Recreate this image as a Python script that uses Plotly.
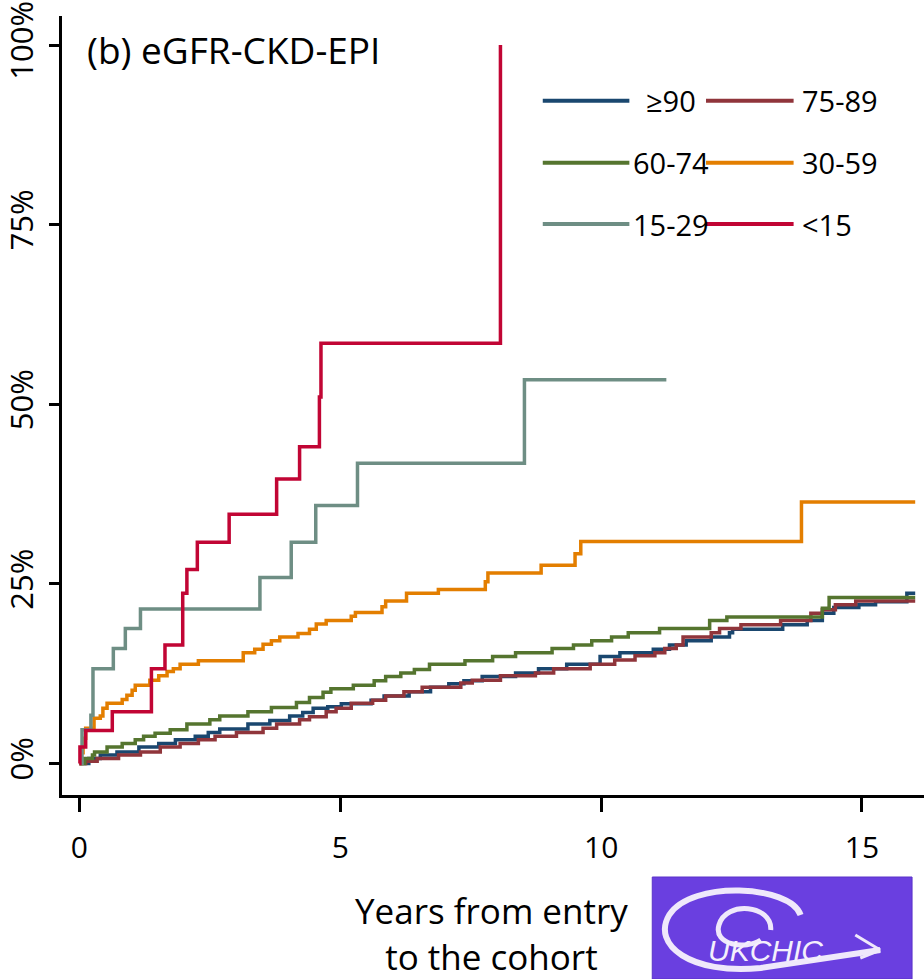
import plotly.graph_objects as go

# ---------------- data (years, cumulative %) ----------------
t_ge90 = [0, 0.18, 0.40, 0.72, 1.14, 1.52, 1.84, 2.22, 2.47, 2.69, 3.23, 3.65, 4.03, 4.28, 4.48, 4.76, 5.02, 5.59, 5.84, 6.32,
          6.73, 7.08, 7.37, 7.72, 8.36, 8.80, 9.34, 9.98, 10.36, 11.00, 11.31, 11.63, 12.11, 12.46, 12.52, 13.48, 13.95, 14.24, 14.46, 14.94,
          15.26, 15.86, 16.02]
y_ge90 = [0, 0.7, 1.2, 1.6, 2.3, 2.8, 3.3, 3.8, 4.3, 4.8, 5.5, 6.0, 6.6, 7.1, 7.7, 7.9, 8.3, 8.8, 9.4, 10.0,
          10.6, 11.1, 11.5, 12.1, 12.6, 13.2, 13.8, 14.9, 15.4, 15.9, 16.5, 17.1, 17.6, 18.2, 18.7, 19.3, 19.9, 20.9, 21.7, 22.1,
          22.5, 23.7, 23.7]

t_75_89 = [0, 0.12, 0.34, 0.75, 1.17, 1.55, 1.93, 2.28, 2.60, 3.01, 3.52, 3.78, 4.22, 4.41, 4.73, 4.92, 5.21, 5.62, 5.87, 6.22,
           6.57, 7.31, 7.53, 8.07, 8.74, 9.09, 9.79, 10.26, 10.65, 11.03, 11.22, 11.44, 11.57, 12.11, 12.27, 12.68, 13.44, 14.02, 14.24, 14.49,
           14.88, 16.02]
y_75_89 = [0, 0.3, 0.7, 1.2, 1.6, 2.3, 2.8, 3.3, 3.8, 4.3, 4.9, 5.5, 6.1, 6.5, 7.2, 7.7, 8.4, 8.8, 9.4, 10.0,
           10.6, 11.2, 11.6, 12.2, 12.6, 13.2, 13.8, 14.4, 15.0, 15.4, 16.0, 16.5, 17.6, 18.2, 18.8, 19.3, 19.9, 20.9, 21.4, 22.1,
           22.6, 22.6]

t_60_74 = [0, 0.10, 0.25, 0.29, 0.53, 0.82, 1.07, 1.23, 1.45, 1.74, 2.06, 2.50, 2.69, 3.23, 3.68, 4.16, 4.41, 4.67, 4.82, 5.25,
           5.65, 5.87, 6.16, 6.42, 6.71, 7.39, 7.92, 8.36, 9.06, 9.47, 9.82, 10.20, 10.52, 11.12, 12.08, 12.41, 14.24, 14.37, 16.02]
y_60_74 = [0, 0.7, 1.2, 1.6, 2.3, 2.8, 3.3, 3.8, 4.2, 4.7, 5.5, 6.1, 6.6, 7.2, 7.8, 8.5, 9.2, 9.9, 10.4, 10.9,
           11.5, 12.1, 12.6, 13.1, 13.8, 14.3, 14.9, 15.4, 16.0, 16.5, 17.1, 17.6, 18.2, 18.8, 19.9, 20.4, 21.6, 23.1, 23.1]

t_30_59 = [0, 0.03, 0.07, 0.12, 0.28, 0.40, 0.45, 0.53, 0.82, 0.91, 1.01, 1.07, 1.35, 1.52, 1.68, 1.80, 1.93, 2.28, 3.14, 3.36,
           3.52, 3.68, 3.84, 4.19, 4.41, 4.54, 4.73, 5.21, 5.29, 5.80, 5.87, 6.27, 6.88, 7.78, 7.83, 8.85, 9.50, 9.61, 13.84, 16.02]
y_30_59 = [0, 1.5, 3.5, 4.9, 6.3, 6.6, 7.7, 8.4, 8.9, 9.5, 10.2, 10.9, 11.6, 12.2, 12.8, 13.2, 13.8, 14.3, 15.4, 15.9,
           16.6, 17.1, 17.6, 18.1, 18.7, 19.4, 19.9, 20.5, 21.0, 21.8, 22.6, 23.7, 24.2, 25.3, 26.5, 27.6, 29.2, 30.9, 36.4, 36.4]

t_15_29 = [0, 0.05, 0.22, 0.26, 0.65, 0.88, 1.17, 3.46, 4.06, 4.53, 5.33, 8.53, 11.25]
y_15_29 = [0, 4.7, 6.7, 13.2, 16.0, 18.8, 21.5, 25.9, 30.8, 35.9, 41.8, 53.4, 53.4]

t_lt15 = [0, 0.01, 0.12, 0.63, 1.38, 1.64, 1.98, 2.06, 2.26, 2.87, 3.78, 4.22, 4.60, 4.63, 8.07]
y_lt15 = [0, 2.3, 4.6, 7.2, 13.2, 16.5, 23.7, 27.0, 30.8, 34.7, 39.6, 44.1, 51.0, 58.5, 100]

group_names = ["≥90", "75-89", "60-74", "30-59", "15-29", "<15"]
group_colors = ["#1a476f", "#90353b", "#55752f", "#e37e00", "#6e8e84", "#c10534"]
series_t = [t_ge90, t_75_89, t_60_74, t_30_59, t_15_29, t_lt15]
series_y = [y_ge90, y_75_89, y_60_74, y_30_59, y_15_29, y_lt15]

y_tick_vals = [0, 25, 50, 75, 100]
y_tick_text = ["0%", "25%", "50%", "75%", "100%"]
x_tick_vals = [0, 5, 10, 15]
x_tick_text = ["0", "5", "10", "15"]

title_text = "(b) eGFR-CKD-EPI"
x_title_text = "Years from entry<br>to the cohort"

# ---------------- layout geometry (pixels) ----------------
W_FIG, H_FIG = 924, 979
L, R, T, B = 58, 0, 16, 184
PW = W_FIG - L - R
PH = H_FIG - T - B
FONT = "Open Sans"


def px(xp):
    return (xp - L) / PW


def py(yp):
    return (T + PH - yp) / PH


fig = go.Figure()
for name, col, tt, yy in zip(group_names, group_colors, series_t, series_y):
    fig.add_trace(go.Scatter(x=tt, y=yy, mode="lines", name=name, line=dict(color=col, width=3.5, shape="hv"),
                             showlegend=False, hoverinfo="skip"))

shapes = []
annotations = []

# manual two-column legend
legend_rows_y = [100.7, 162.7, 224.0]
col1_line = (541, 628)
col2_line = (705, 793)
for i, (name, col) in enumerate(zip(group_names, group_colors)):
    row, c = divmod(i, 2)
    yl = legend_rows_y[row]
    x0, x1 = col1_line if c == 0 else col2_line
    shapes.append(dict(type="line", xref="paper", yref="paper", x0=px(x0), x1=px(x1), y0=py(yl), y1=py(yl),
                       line=dict(color=col, width=4)))
    if c == 0:
        annotations.append(dict(text=name, xref="paper", yref="paper", x=px(670), y=py(yl), xanchor="center",
                                yanchor="middle", showarrow=False, font=dict(family=FONT, size=29, color="black")))
    else:
        annotations.append(dict(text=name, xref="paper", yref="paper", x=px(799), y=py(yl), xanchor="left",
                                yanchor="middle", showarrow=False, font=dict(family=FONT, size=29, color="black")))

# panel title
annotations.append(dict(text=title_text, xref="paper", yref="paper", x=px(81), y=py(50), xanchor="left",
                        yanchor="middle", showarrow=False, font=dict(family=FONT, size=37, color="black")))

# x-axis title (placed like the original)
annotations.append(dict(text=x_title_text, xref="paper", yref="paper", x=px(489), y=py(933), xanchor="center",
                        yanchor="middle", showarrow=False, font=dict(family=FONT, size=35, color="black")))

# logo (approximation)
shapes.append(dict(type="rect", xref="paper", yref="paper", x0=px(651), x1=px(912), y0=py(979), y1=py(877),
                   fillcolor="#6a3fe0", line=dict(color="#5a32c8", width=1), layer="above"))


def P(x, y):
    return f"{px(x):.5f},{py(y):.5f}"


swirl = ("M " + P(800, 915) + " C " + P(790, 885) + " " + P(690, 880) + " " + P(668, 915) +
         " C " + P(650, 945) + " " + P(690, 975) + " " + P(760, 968) +
         " L " + P(880, 950))
shapes.append(dict(type="path", xref="paper", yref="paper", path=swirl, line=dict(color="#efe8fb", width=6)))
inner = ("M " + P(770, 930) + " C " + P(772, 905) + " " + P(725, 900) + " " + P(718, 925) +
         " C " + P(712, 945) + " " + P(745, 950) + " " + P(760, 940))
shapes.append(dict(type="path", xref="paper", yref="paper", path=inner, line=dict(color="#efe8fb", width=5)))
shapes.append(dict(type="path", xref="paper", yref="paper",
                   path="M " + P(880, 950) + " L " + P(855, 935) + " M " + P(880, 950) + " L " + P(860, 958),
                   line=dict(color="#efe8fb", width=3)))
annotations.append(dict(text="<i>UKCHIC</i>", xref="paper", yref="paper", x=px(765), y=py(950), xanchor="center",
                        yanchor="middle", showarrow=False,
                        font=dict(family="Liberation Sans Narrow, Liberation Sans", size=30, color="#f4effc")))

px_per_year = (861.7 - 75.5) / 15.0
x0_px = 75.5
px_per_pct = 7.185
y0_px = 763.5

fig.update_layout(
    width=W_FIG, height=H_FIG,
    margin=dict(l=L, r=R, t=T, b=B, pad=0),
    paper_bgcolor="white", plot_bgcolor="white",
    showlegend=False,
    shapes=shapes, annotations=annotations,
    font=dict(family=FONT, color="black"),
    xaxis=dict(range=[-(x0_px - L) / px_per_year, (W_FIG - R - x0_px) / px_per_year],
               tickmode="array", tickvals=x_tick_vals, ticktext=x_tick_text,
               showgrid=False, zeroline=False, showline=True, linecolor="black", linewidth=3,
               ticks="outside", ticklen=14, tickwidth=3, tickcolor="black",
               tickfont=dict(family=FONT, size=30, color="black"), ticklabelstandoff=10),
    yaxis=dict(range=[-(T + PH - y0_px) / px_per_pct, (y0_px - T) / px_per_pct],
               tickmode="array", tickvals=y_tick_vals, ticktext=y_tick_text, tickangle=-90,
               showgrid=False, zeroline=False, showline=True, linecolor="black", linewidth=3,
               ticks="outside", ticklen=10, tickwidth=3, tickcolor="black",
               tickfont=dict(family=FONT, size=31, color="black"), ticklabelstandoff=4),
)

fig.write_html("out.html", config={"displayModeBar": False},
               post_script="document.body.style.margin='0px';document.body.style.overflow='hidden';")
